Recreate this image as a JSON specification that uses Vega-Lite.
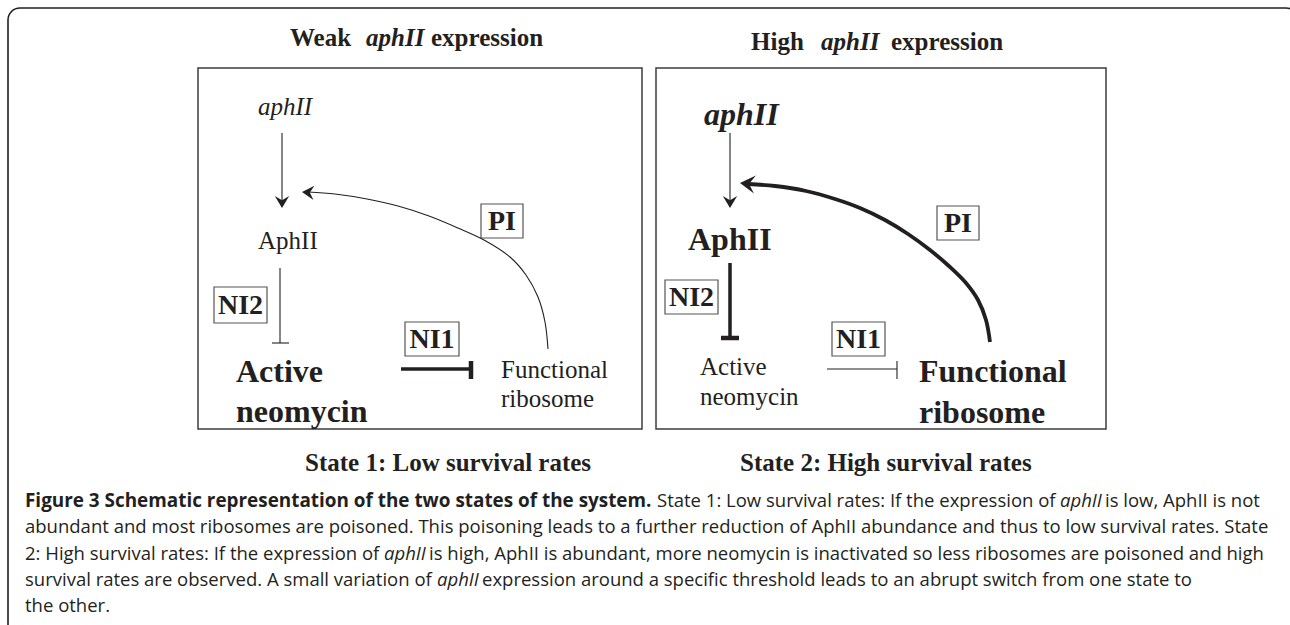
{
  "$schema": "https://vega.github.io/schema/vega-lite/v6.json",
  "width": 1290,
  "height": 625,
  "padding": 0,
  "autosize": {"type": "none"},
  "background": "white",
  "config": {"view": {"stroke": null}},
  "datasets": {
    "frame": [{"x": 8, "x2": 1298, "y": 8, "y2": 640}],
    "panels": [
      {"x": 198, "x2": 642, "y": 68, "y2": 429},
      {"x": 656, "x2": 1106, "y": 68, "y2": 429}
    ],
    "tagBoxes": [
      {"x": 481, "x2": 523, "y": 204, "y2": 238},
      {"x": 214, "x2": 267, "y": 287, "y2": 323},
      {"x": 405, "x2": 459, "y": 322, "y2": 356},
      {"x": 937, "x2": 979, "y": 206, "y2": 240},
      {"x": 665, "x2": 718, "y": 280, "y2": 314},
      {"x": 832, "x2": 885, "y": 322, "y2": 356}
    ],
    "tags": [
      {"label": "PI", "x": 502, "y": 230},
      {"label": "NI2", "x": 240.5, "y": 314},
      {"label": "NI1", "x": 432, "y": 348},
      {"label": "PI", "x": 958, "y": 232},
      {"label": "NI2", "x": 691.5, "y": 306},
      {"label": "NI1", "x": 858.5, "y": 348}
    ],
    "thinRules": [
      {"x": 282, "x2": 282, "y": 133, "y2": 202},
      {"x": 730, "x2": 730, "y": 133, "y2": 202},
      {"x": 280, "x2": 280, "y": 268, "y2": 343},
      {"x": 272, "x2": 289, "y": 343, "y2": 343},
      {"x": 827, "x2": 897, "y": 369, "y2": 369},
      {"x": 897, "x2": 897, "y": 361, "y2": 379}
    ],
    "thickRules": [
      {"x": 401, "x2": 471, "y": 369, "y2": 369},
      {"x": 730, "x2": 730, "y": 263, "y2": 338}
    ],
    "thickBars": [
      {"x": 471, "x2": 471, "y": 361, "y2": 379},
      {"x": 721, "x2": 739, "y": 338, "y2": 338}
    ],
    "thinCurve": [
      {"i": 0, "x": 548, "y": 349},
      {"i": 1, "x": 545, "y": 322},
      {"i": 2, "x": 538, "y": 297},
      {"i": 3, "x": 526, "y": 275},
      {"i": 4, "x": 510, "y": 257},
      {"i": 5, "x": 484, "y": 240},
      {"i": 6, "x": 458, "y": 228},
      {"i": 7, "x": 429, "y": 216},
      {"i": 8, "x": 398, "y": 206},
      {"i": 9, "x": 367, "y": 199},
      {"i": 10, "x": 335, "y": 194},
      {"i": 11, "x": 308, "y": 192}
    ],
    "thickCurve": [
      {"i": 0, "x": 990, "y": 342},
      {"i": 1, "x": 986, "y": 320},
      {"i": 2, "x": 978, "y": 300},
      {"i": 3, "x": 966, "y": 283},
      {"i": 4, "x": 950, "y": 267},
      {"i": 5, "x": 930, "y": 250},
      {"i": 6, "x": 908, "y": 234},
      {"i": 7, "x": 885, "y": 220},
      {"i": 8, "x": 860, "y": 208},
      {"i": 9, "x": 835, "y": 199},
      {"i": 10, "x": 806, "y": 191},
      {"i": 11, "x": 775, "y": 186},
      {"i": 12, "x": 748, "y": 184}
    ],
    "downHeads": [
      {"x": 282, "y": 208},
      {"x": 730, "y": 208}
    ],
    "leftThinHead": [{"x": 302, "y": 192}],
    "leftThickHead": [{"x": 740, "y": 183}],
    "serifBold25": [
      {"t": "Weak", "x": 290, "y": 46},
      {"t": "expression", "x": 431, "y": 46},
      {"t": "High", "x": 751, "y": 50},
      {"t": "expression", "x": 891, "y": 50},
      {"t": "State 1: Low survival rates", "x": 305, "y": 471},
      {"t": "State 2: High survival rates", "x": 740, "y": 471}
    ],
    "serifBoldItalic25": [
      {"t": "aphII", "x": 366, "y": 46},
      {"t": "aphII", "x": 821, "y": 50}
    ],
    "serifItalic25": [
      {"t": "aphII", "x": 258, "y": 115}
    ],
    "serifRegular25": [
      {"t": "AphII", "x": 258, "y": 249},
      {"t": "Functional", "x": 501, "y": 378},
      {"t": "ribosome", "x": 501, "y": 407},
      {"t": "Active", "x": 700, "y": 375},
      {"t": "neomycin", "x": 700, "y": 405}
    ],
    "serifBold32": [
      {"t": "Active", "x": 236, "y": 382},
      {"t": "neomycin", "x": 236, "y": 422},
      {"t": "AphII", "x": 688, "y": 250},
      {"t": "Functional", "x": 919, "y": 382},
      {"t": "ribosome", "x": 919, "y": 423}
    ],
    "serifBoldItalic32": [
      {"t": "aphII", "x": 704, "y": 125}
    ],
    "sansBold": [
      {"t": "Figure 3 Schematic representation of the two states of the system.", "x": 25, "y": 507}
    ],
    "sansRegular": [
      {"t": "State 1: Low survival rates: If the expression of", "x": 657, "y": 507},
      {"t": "is low, AphII is not", "x": 1105, "y": 507},
      {"t": "abundant and most ribosomes are poisoned. This poisoning leads to a further reduction of AphII abundance and thus to low survival rates. State", "x": 25, "y": 533},
      {"t": "2: High survival rates: If the expression of", "x": 25, "y": 560},
      {"t": "is high, AphII is abundant, more neomycin is inactivated so less ribosomes are poisoned and high", "x": 429, "y": 560},
      {"t": "survival rates are observed. A small variation of", "x": 25, "y": 586},
      {"t": "expression around a specific threshold leads to an abrupt switch from one state to", "x": 482, "y": 586},
      {"t": "the other.", "x": 25, "y": 612}
    ],
    "sansItalic": [
      {"t": "aphII", "x": 1060, "y": 507},
      {"t": "aphII", "x": 384, "y": 560},
      {"t": "aphII", "x": 437, "y": 586}
    ]
  },
  "encoding": {
    "x": {"field": "x", "type": "quantitative", "scale": {"domain": [0, 1290], "nice": false, "zero": false}, "axis": null},
    "y": {"field": "y", "type": "quantitative", "scale": {"domain": [0, 625], "nice": false, "zero": false, "reverse": true}, "axis": null}
  },
  "layer": [
    {
      "data": {"name": "frame"},
      "mark": {"type": "rect", "fill": null, "stroke": "#231f20", "strokeWidth": 1.6, "cornerRadius": 12},
      "encoding": {"x2": {"field": "x2"}, "y2": {"field": "y2"}}
    },
    {
      "data": {"name": "panels"},
      "mark": {"type": "rect", "fill": null, "stroke": "#3c3c3c", "strokeWidth": 1.5},
      "encoding": {"x2": {"field": "x2"}, "y2": {"field": "y2"}}
    },
    {
      "data": {"name": "tagBoxes"},
      "mark": {"type": "rect", "fill": null, "stroke": "#555555", "strokeWidth": 1.2},
      "encoding": {"x2": {"field": "x2"}, "y2": {"field": "y2"}}
    },
    {
      "data": {"name": "thinRules"},
      "mark": {"type": "rule", "stroke": "#231f20", "strokeWidth": 1.1},
      "encoding": {"x2": {"field": "x2"}, "y2": {"field": "y2"}}
    },
    {
      "data": {"name": "thickRules"},
      "mark": {"type": "rule", "stroke": "#231f20", "strokeWidth": 3.5, "strokeCap": "butt"},
      "encoding": {"x2": {"field": "x2"}, "y2": {"field": "y2"}}
    },
    {
      "data": {"name": "thickBars"},
      "mark": {"type": "rule", "stroke": "#231f20", "strokeWidth": 4.5, "strokeCap": "butt"},
      "encoding": {"x2": {"field": "x2"}, "y2": {"field": "y2"}}
    },
    {
      "data": {"name": "thinCurve"},
      "mark": {"type": "line", "stroke": "#231f20", "strokeWidth": 1.1, "interpolate": "catmull-rom"},
      "encoding": {"order": {"field": "i", "type": "quantitative"}}
    },
    {
      "data": {"name": "thickCurve"},
      "mark": {"type": "line", "stroke": "#231f20", "strokeWidth": 3.8, "interpolate": "catmull-rom"},
      "encoding": {"order": {"field": "i", "type": "quantitative"}}
    },
    {
      "data": {"name": "downHeads"},
      "mark": {"type": "point", "shape": "M0,0 L-1,-0.6 L-0.65,0 L-1,0.6 Z", "size": 576, "angle": 90, "filled": true, "fill": "#231f20", "opacity": 1, "strokeWidth": 0}
    },
    {
      "data": {"name": "leftThinHead"},
      "mark": {"type": "point", "shape": "M0,0 L-1,-0.6 L-0.65,0 L-1,0.6 Z", "size": 576, "angle": 184, "filled": true, "fill": "#231f20", "opacity": 1, "strokeWidth": 0}
    },
    {
      "data": {"name": "leftThickHead"},
      "mark": {"type": "point", "shape": "M0,0 L-1,-0.6 L-0.6,0 L-1,0.6 Z", "size": 900, "angle": 186, "filled": true, "fill": "#231f20", "opacity": 1, "strokeWidth": 0}
    },
    {
      "data": {"name": "tags"},
      "mark": {"type": "text", "font": "Liberation Serif", "fontWeight": "bold", "fontSize": 28, "align": "center", "baseline": "alphabetic", "fill": "#231f20"},
      "encoding": {"text": {"field": "label"}}
    },
    {
      "data": {"name": "serifBold25"},
      "mark": {"type": "text", "font": "Liberation Serif", "fontWeight": "bold", "fontSize": 25, "align": "left", "baseline": "alphabetic", "fill": "#231f20"},
      "encoding": {"text": {"field": "t"}}
    },
    {
      "data": {"name": "serifBoldItalic25"},
      "mark": {"type": "text", "font": "Liberation Serif", "fontWeight": "bold", "fontStyle": "italic", "fontSize": 25, "align": "left", "baseline": "alphabetic", "fill": "#231f20"},
      "encoding": {"text": {"field": "t"}}
    },
    {
      "data": {"name": "serifItalic25"},
      "mark": {"type": "text", "font": "Liberation Serif", "fontStyle": "italic", "fontSize": 25, "align": "left", "baseline": "alphabetic", "fill": "#231f20"},
      "encoding": {"text": {"field": "t"}}
    },
    {
      "data": {"name": "serifRegular25"},
      "mark": {"type": "text", "font": "Liberation Serif", "fontSize": 25, "align": "left", "baseline": "alphabetic", "fill": "#231f20"},
      "encoding": {"text": {"field": "t"}}
    },
    {
      "data": {"name": "serifBold32"},
      "mark": {"type": "text", "font": "Liberation Serif", "fontWeight": "bold", "fontSize": 32, "align": "left", "baseline": "alphabetic", "fill": "#231f20"},
      "encoding": {"text": {"field": "t"}}
    },
    {
      "data": {"name": "serifBoldItalic32"},
      "mark": {"type": "text", "font": "Liberation Serif", "fontWeight": "bold", "fontStyle": "italic", "fontSize": 32, "align": "left", "baseline": "alphabetic", "fill": "#231f20"},
      "encoding": {"text": {"field": "t"}}
    },
    {
      "data": {"name": "sansBold"},
      "mark": {"type": "text", "font": "Open Sans", "fontWeight": "bold", "fontSize": 18.9, "align": "left", "baseline": "alphabetic", "fill": "#231f20"},
      "encoding": {"text": {"field": "t"}}
    },
    {
      "data": {"name": "sansRegular"},
      "mark": {"type": "text", "font": "Open Sans", "fontSize": 18.5, "align": "left", "baseline": "alphabetic", "fill": "#231f20"},
      "encoding": {"text": {"field": "t"}}
    },
    {
      "data": {"name": "sansItalic"},
      "mark": {"type": "text", "font": "Open Sans", "fontStyle": "italic", "fontSize": 18.5, "align": "left", "baseline": "alphabetic", "fill": "#231f20"},
      "encoding": {"text": {"field": "t"}}
    }
  ]
}
